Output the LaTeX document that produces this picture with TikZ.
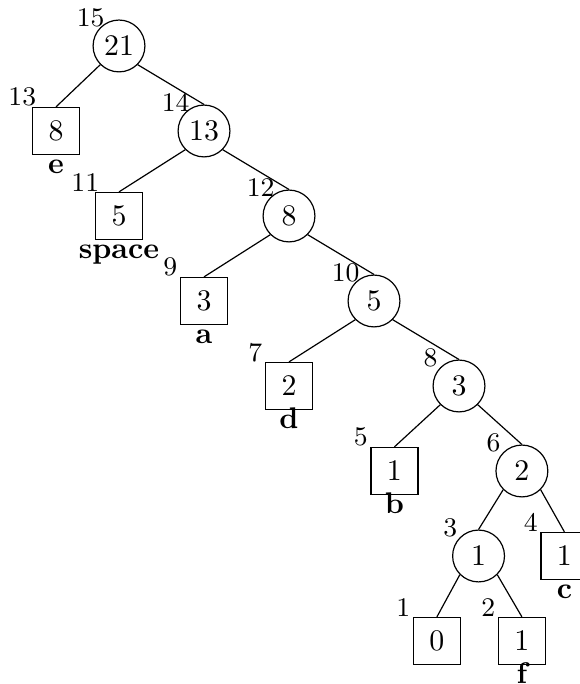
\documentclass[tikz,border=0pt]{standalone}
\usepackage{tikz}

\begin{document}
\begin{tikzpicture}[
  inode/.style={circle, draw, minimum size=0.61cm, inner sep=0pt},
  leaf/.style={rectangle, draw, minimum size=0.553cm, inner sep=0pt},
  num/.style={label={[anchor=center, label distance=0.16cm, font=\small]135:#1}},
  sym/.style={label={[font=\bfseries, inner sep=0pt, text height=5.9pt, text depth=0pt]below:#1}},
  line/.style={draw}
]
  \useasboundingbox (-1.4,0.541) rectangle (5.412,-7.506);

  \node[inode, num=15] (v15) at (0,0) {21};
  \node[leaf, num=13, sym=e] (v13) at (-0.741,-1) {8};
  \node[inode, num=14] (v14) at (1,-1) {13};
  \node[leaf, num=11, sym=space] (v11) at (0,-2) {5};
  \node[inode, num=12] (v12) at (2,-2) {8};
  \node[leaf, num=9, sym=a] (v9) at (1,-3) {3};
  \node[inode, num=10] (v10) at (3,-3) {5};
  \node[leaf, num=7, sym=d] (v7) at (2,-4) {2};
  \node[inode, num=8] (v8) at (4,-4) {3};
  \node[leaf, num=5, sym=b] (v5) at (3.24,-5) {1};
  \node[inode, num=6] (v6) at (4.74,-5) {2};
  \node[inode, num=3] (v3) at (4.23,-6) {1};
  \node[leaf, num=4, sym=c] (v4) at (5.24,-6) {1};
  \node[leaf, num=1] (v1) at (3.74,-7) {0};
  \node[leaf, num=2, sym=f] (v2) at (4.74,-7) {1};

  \path[line] (v15.south west) -- (v13.north);
  \path[line] (v15.south east) -- (v14.north);
  \path[line] (v14.south west) -- (v11.north);
  \path[line] (v14.south east) -- (v12.north);
  \path[line] (v12.south west) -- (v9.north);
  \path[line] (v12.south east) -- (v10.north);
  \path[line] (v10.south west) -- (v7.north);
  \path[line] (v10.south east) -- (v8.north);
  \path[line] (v8.south west) -- (v5.north);
  \path[line] (v8.south east) -- (v6.north);
  \path[line] (v6.south west) -- (v3.north);
  \path[line] (v6.south east) -- (v4.north);
  \path[line] (v3.south west) -- (v1.north);
  \path[line] (v3.south east) -- (v2.north);
\end{tikzpicture}
\end{document}
